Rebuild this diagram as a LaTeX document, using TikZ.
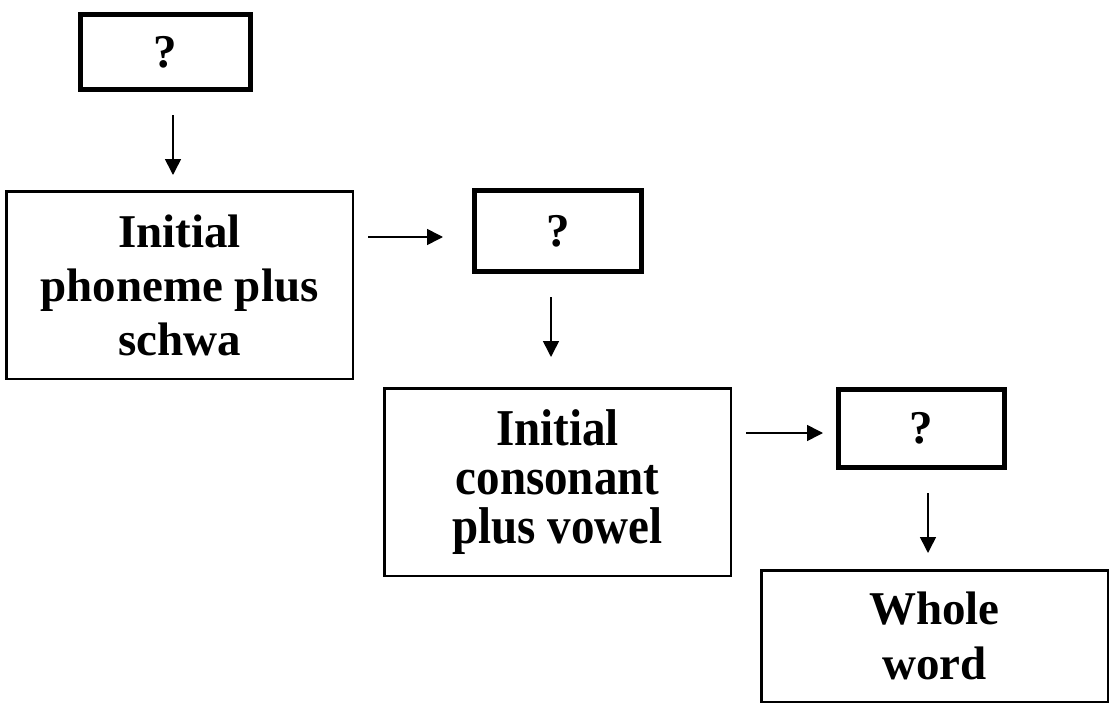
\documentclass[tikz,border=0pt]{standalone}
\usepackage{fontspec}
\usepackage{graphicx}
\setmainfont{Liberation Serif}
\usetikzlibrary{arrows.meta}
\newcommand{\stretchlines}[1]{\scalebox{1}[1.1]{\vbox{\baselineskip=44.5pt\lineskiplimit=-100pt\halign{\hfil##\hfil\cr#1\cr}}}}
\begin{document}
\begin{tikzpicture}[x=1pt,y=-1pt,
  base/.style={draw=black, inner sep=0pt, outer sep=0pt, align=center,
    font=\bfseries\fontsize{47}{54}\selectfont},
  qbox/.style={base, line width=5pt},
  tbox/.style={base, line width=2.5pt, minimum width=346.5pt},
  arr/.style={line width=1.6pt, -{Triangle[length=16pt,width=16pt]}}]
\useasboundingbox (0,0) rectangle (1112,704);
\node[qbox, minimum width=170pt, minimum height=75pt] (b1) at (165.5,52) {?};
\node[tbox, minimum height=187.5pt] (b2) at (179.5,285) {Initial\\phoneme plus\\schwa};
\node[qbox, minimum width=167pt, minimum height=81pt] (b3) at (558,231) {?};
\node[tbox, minimum height=187.5pt] (b4) at (557.5,482) {\stretchlines{Initial\cr consonant\cr plus vowel}};
\node[qbox, minimum width=166pt, minimum height=78pt] (b5) at (921.5,428.5) {?};
\node[tbox, minimum height=131.5pt, font=\bfseries\fontsize{47}{55}\selectfont] (b6) at (934.5,636) {Whole\\word};
\draw[arr] ([xshift=7.5pt,yshift=-25.5pt]b1.south) -- ([xshift=-6.5pt,yshift=16.25pt]b2.north);
\draw[arr] ([xshift=15.25pt,yshift=48pt]b2.east) -- ([xshift=-31.5pt,yshift=-6pt]b3.west);
\draw[arr] ([xshift=-7pt,yshift=-25.5pt]b3.south) -- ([xshift=-6.5pt,yshift=31.25pt]b4.north);
\draw[arr] ([xshift=15.25pt,yshift=49pt]b4.east) -- ([xshift=-15.5pt,yshift=-4.5pt]b5.west);
\draw[arr] ([xshift=6.5pt,yshift=-25.5pt]b5.south) -- ([xshift=-6.5pt,yshift=17.25pt]b6.north);
\end{tikzpicture}
\end{document}
